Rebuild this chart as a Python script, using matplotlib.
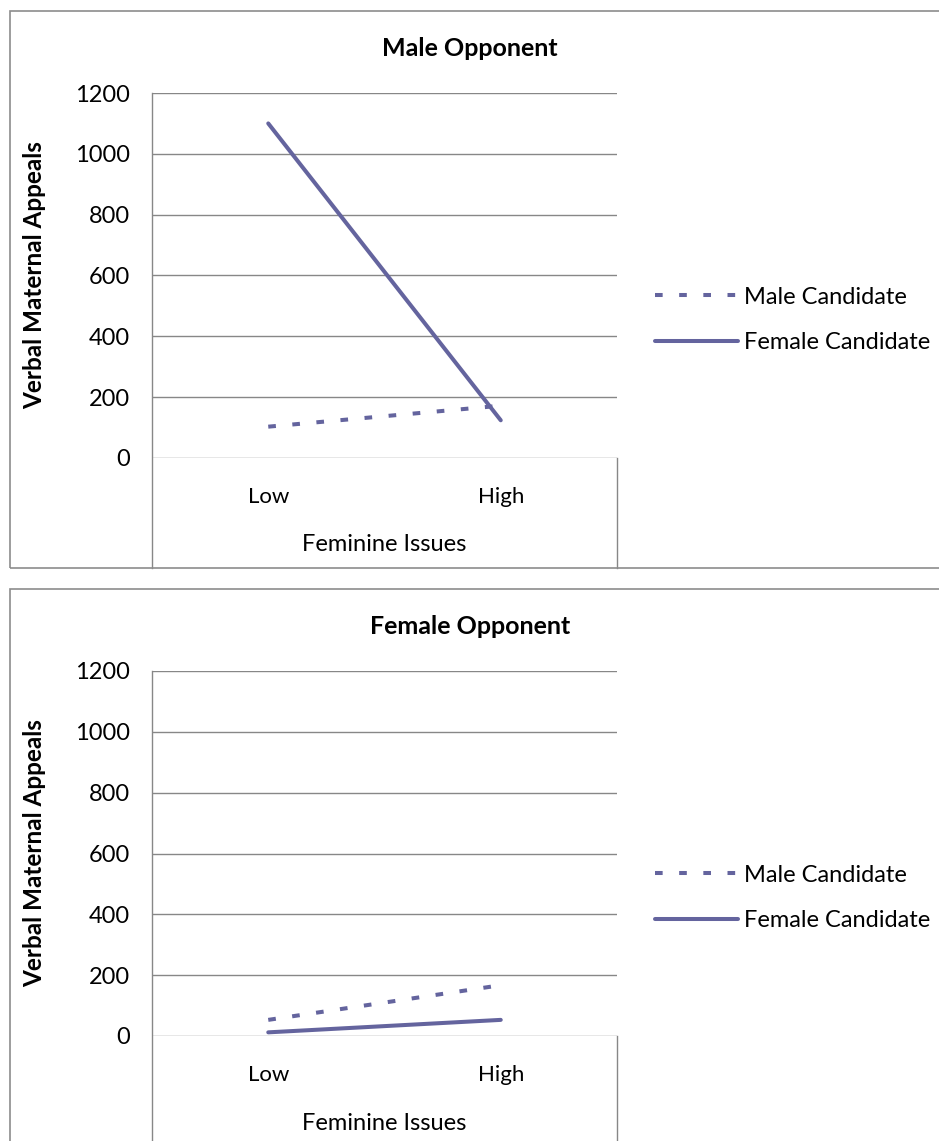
import matplotlib.pyplot as plt
from matplotlib.patches import Rectangle
from matplotlib.lines import Line2D

plt.rcParams['font.family'] = ['Lato', 'DejaVu Sans']

categories = ["Low", "High"]
series_names = ["Male Candidate", "Female Candidate"]
titles = ["Male Opponent", "Female Opponent"]
# values per panel: [male candidate, female candidate]
male_opp_male = [103, 172]
male_opp_female = [1100, 124]
female_opp_male = [53, 167]
female_opp_female = [12, 53]
yticks = [0, 200, 400, 600, 800, 1000, 1200]

color = "#64649E"
grid_c = "#878787"
W, H = 939, 1141

fig = plt.figure(figsize=(W / 100, H / 100), dpi=100)

panels = [(male_opp_male, male_opp_female), (female_opp_male, female_opp_female)]
offset = 578  # vertical pixel shift between the two charts

for k, (male, female) in enumerate(panels):
    dy = k * offset
    top, bot = 93 + dy, 458 + dy
    # chart frame
    fig.patches.append(Rectangle((10 / W, 1 - (568 + dy) / H), 1.0, 557 / H,
                                 transform=fig.transFigure, fill=False,
                                 edgecolor="#8c8c8c", lw=1.2))
    ax = fig.add_axes([152 / W, 1 - bot / H, 465 / W, (bot - top) / H])
    x = range(len(categories))
    ax.plot(x, male, color=color, lw=2.9, dashes=(1.9, 4.1),
            dash_capstyle='butt', solid_capstyle='butt')
    ax.plot(x, female, color=color, lw=2.9, solid_capstyle='round')
    ax.set_xlim(-0.5, 1.5)
    ax.set_ylim(0, 1200)
    ax.set_yticks(yticks)
    ax.set_xticks(list(x))
    ax.set_xticklabels(categories)
    ax.grid(axis='y', color=grid_c, lw=1)
    ax.set_axisbelow(True)
    for s in ax.spines.values():
        s.set_visible(False)
    ax.tick_params(axis='y', length=0, labelsize=17, pad=16)
    ax.tick_params(axis='x', length=0, labelsize=16, pad=21)
    ext = -(568 - 458) / (bot - top)
    ax.add_line(Line2D([0, 0], [1, ext], transform=ax.transAxes, color=grid_c,
                       lw=1, clip_on=False))
    ax.add_line(Line2D([1, 1], [0, ext], transform=ax.transAxes, color=grid_c,
                       lw=1, clip_on=False))
    ax.text(0.5, -(545 - 458) / (bot - top), "Feminine Issues", transform=ax.transAxes,
            ha='center', va='center', fontsize=17)
    fig.text(35 / W, 1 - (275 + dy) / H, "Verbal Maternal Appeals", rotation=90,
             ha='center', va='center', fontsize=17.5, fontweight='bold')
    fig.text(470 / W, 1 - (48 + dy) / H, titles[k], ha='center', va='center',
             fontsize=18, fontweight='bold')
    ax.legend(series_names, loc='center left',
              bbox_to_anchor=(655 / W, 1 - (320 + dy) / H),
              bbox_transform=fig.transFigure, frameon=False, fontsize=17,
              handlelength=3.5, handletextpad=0.25, labelspacing=1.05,
              borderaxespad=0, borderpad=0)

fig.savefig("out.png", dpi=100, facecolor="white")
